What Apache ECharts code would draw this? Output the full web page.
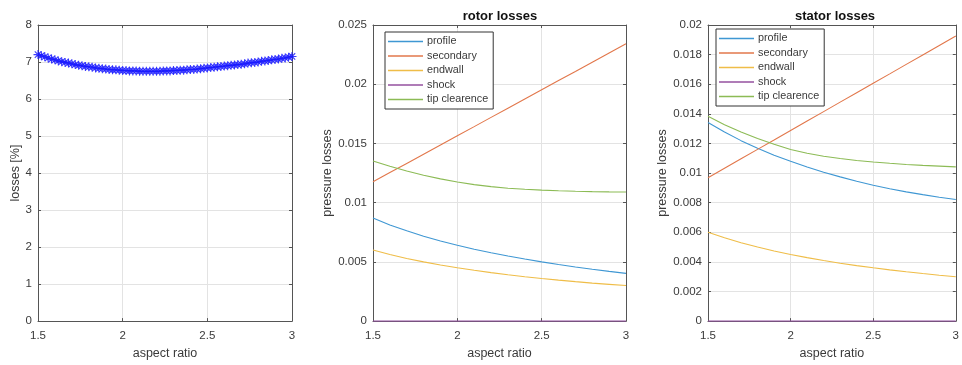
<!DOCTYPE html>
<html>
<head>
<meta charset="utf-8">
<title>aspect ratio losses</title>
<script src="https://cdn.jsdelivr.net/npm/echarts@6/dist/echarts.min.js"></script>
<style>
  html, body { margin: 0; padding: 0; background: #fff; }
  #chart { width: 962px; height: 365px; }
</style>
</head>
<body>
<div id="chart"></div>
<script>
// Total losses [%] versus aspect ratio (1.50 .. 3.00, step 0.02)
const totalAR = [
  1.50, 1.52, 1.54, 1.56, 1.58, 1.60, 1.62, 1.64, 1.66, 1.68,
  1.70, 1.72, 1.74, 1.76, 1.78, 1.80, 1.82, 1.84, 1.86, 1.88,
  1.90, 1.92, 1.94, 1.96, 1.98, 2.00, 2.02, 2.04, 2.06, 2.08,
  2.10, 2.12, 2.14, 2.16, 2.18, 2.20, 2.22, 2.24, 2.26, 2.28,
  2.30, 2.32, 2.34, 2.36, 2.38, 2.40, 2.42, 2.44, 2.46, 2.48,
  2.50, 2.52, 2.54, 2.56, 2.58, 2.60, 2.62, 2.64, 2.66, 2.68,
  2.70, 2.72, 2.74, 2.76, 2.78, 2.80, 2.82, 2.84, 2.86, 2.88,
  2.90, 2.92, 2.94, 2.96, 2.98, 3.00
];
const totalLoss = [
  7.20, 7.17, 7.14, 7.11, 7.08, 7.06, 7.03, 7.01, 6.99, 6.97,
  6.95, 6.93, 6.91, 6.90, 6.88, 6.87, 6.86, 6.84, 6.83, 6.82,
  6.81, 6.80, 6.79, 6.79, 6.78, 6.77, 6.77, 6.76, 6.76, 6.76,
  6.75, 6.75, 6.75, 6.75, 6.75, 6.75, 6.75, 6.76, 6.76, 6.76,
  6.77, 6.77, 6.78, 6.78, 6.79, 6.80, 6.80, 6.81, 6.82, 6.83,
  6.84, 6.85, 6.86, 6.87, 6.88, 6.89, 6.90, 6.91, 6.92, 6.93,
  6.94, 6.95, 6.97, 6.98, 6.99, 7.00, 7.02, 7.03, 7.04, 7.06,
  7.07, 7.08, 7.10, 7.11, 7.13, 7.15
];

// Loss breakdown versus aspect ratio (1.5 .. 3.0, step 0.1)
const ar = [1.5, 1.6, 1.7, 1.8, 1.9, 2.0, 2.1, 2.2, 2.3, 2.4, 2.5, 2.6, 2.7, 2.8, 2.9, 3.0];

const rotorProfile   = [0.00870, 0.00812, 0.00762, 0.00717, 0.00677, 0.00640, 0.00607, 0.00577, 0.00550, 0.00524, 0.00500, 0.00478, 0.00457, 0.00438, 0.00420, 0.00403];
const rotorSecondary = [0.01176, 0.01254, 0.01331, 0.01409, 0.01487, 0.01565, 0.01642, 0.01720, 0.01798, 0.01875, 0.01953, 0.02031, 0.02108, 0.02186, 0.02264, 0.02341];
const rotorEndwall   = [0.00600, 0.00563, 0.00529, 0.00500, 0.00474, 0.00450, 0.00429, 0.00409, 0.00391, 0.00375, 0.00360, 0.00346, 0.00333, 0.00321, 0.00310, 0.00300];
const rotorShock     = [0, 0, 0, 0, 0, 0, 0, 0, 0, 0, 0, 0, 0, 0, 0, 0];
const rotorTip       = [0.01352, 0.01307, 0.01267, 0.01232, 0.01201, 0.01174, 0.01152, 0.01135, 0.01122, 0.01113, 0.01106, 0.01100, 0.01096, 0.01093, 0.01091, 0.01090];

const statorProfile   = [0.01342, 0.01277, 0.01219, 0.01167, 0.01120, 0.01079, 0.01041, 0.01006, 0.00974, 0.00945, 0.00918, 0.00894, 0.00873, 0.00854, 0.00837, 0.00821];
const statorSecondary = [0.00968, 0.01032, 0.01096, 0.01160, 0.01223, 0.01287, 0.01351, 0.01415, 0.01479, 0.01543, 0.01607, 0.01670, 0.01734, 0.01798, 0.01862, 0.01926];
const statorEndwall   = [0.00600, 0.00563, 0.00529, 0.00500, 0.00474, 0.00450, 0.00429, 0.00409, 0.00391, 0.00375, 0.00360, 0.00346, 0.00333, 0.00321, 0.00310, 0.00300];
const statorShock     = [0, 0, 0, 0, 0, 0, 0, 0, 0, 0, 0, 0, 0, 0, 0, 0];
const statorTip       = [0.01383, 0.01327, 0.01277, 0.01233, 0.01194, 0.01159, 0.01134, 0.01114, 0.01098, 0.01085, 0.01075, 0.01066, 0.01058, 0.01052, 0.01047, 0.01042];

const lossNames = ['profile', 'secondary', 'endwall', 'shock', 'tip clearence'];
const lossColors = ['#3f97d3', '#e2774b', '#efbd48', '#94509f', '#8cbb55'];

const FONT = '"Liberation Sans", Arial, Helvetica, sans-serif';
const TEXT = '#3a3a3a';
const BOX = '#555555';
const GRIDLINE = '#e3e3e3';
const TICK_SIZE = 11.5;
const NAME_SIZE = 12.5;

// asterisk marker built from thin bars
const STAR = 'path://M-0.12,-1L0.12,-1L0.12,1L-0.12,1Z' +
  'M-1,-0.12L1,-0.12L1,0.12L-1,0.12Z' +
  'M-0.8,-0.63L-0.63,-0.8L0.8,0.63L0.63,0.8Z' +
  'M0.63,-0.8L0.8,-0.63L-0.63,0.8L-0.8,0.63Z';

const pairs = (xs, ys) => xs.map((x, i) => [x, ys[i]]);

const grids = [
  { left: 38,  top: 25, width: 254, height: 299 },
  { left: 373, top: 25, width: 253, height: 299 },
  { left: 708, top: 25, width: 253, height: 299 }
];

function bottomAxis(gi) {
  return {
    type: 'value', gridIndex: gi, position: 'bottom',
    min: 1.5, max: 3, interval: 0.5,
    name: 'aspect ratio', nameLocation: 'middle', nameGap: 23,
    nameTextStyle: { color: TEXT, fontFamily: FONT, fontSize: NAME_SIZE },
    axisLine: { onZero: false, lineStyle: { color: BOX, width: 1 } },
    axisTick: { inside: true, length: 3, lineStyle: { color: BOX } },
    axisLabel: { color: TEXT, fontFamily: FONT, fontSize: TICK_SIZE, margin: 9 },
    splitLine: { show: true, lineStyle: { color: GRIDLINE, width: 1 } }
  };
}
function topAxis(gi) {
  return {
    type: 'value', gridIndex: gi, position: 'top',
    min: 1.5, max: 3, interval: 0.5,
    axisLine: { onZero: false, lineStyle: { color: BOX, width: 1 } },
    axisTick: { inside: true, length: 3, lineStyle: { color: BOX } },
    axisLabel: { show: false },
    splitLine: { show: false }
  };
}
function leftAxis(gi, max, interval, name, gap) {
  return {
    type: 'value', gridIndex: gi, position: 'left',
    min: 0, max: max, interval: interval,
    name: name, nameLocation: 'middle', nameGap: gap,
    nameTextStyle: { color: TEXT, fontFamily: FONT, fontSize: NAME_SIZE },
    axisLine: { show: true, onZero: false, lineStyle: { color: BOX, width: 1 } },
    axisTick: { show: true, inside: true, length: 3, lineStyle: { color: BOX } },
    axisLabel: { color: TEXT, fontFamily: FONT, fontSize: TICK_SIZE, margin: 6 },
    splitLine: { show: true, lineStyle: { color: GRIDLINE, width: 1 } }
  };
}
function rightAxis(gi, max, interval) {
  return {
    type: 'value', gridIndex: gi, position: 'right',
    min: 0, max: max, interval: interval,
    axisLine: { show: true, onZero: false, lineStyle: { color: BOX, width: 1 } },
    axisTick: { show: true, inside: true, length: 3, lineStyle: { color: BOX } },
    axisLabel: { show: false },
    splitLine: { show: false }
  };
}

function lossSeries(xi, yi, sets) {
  return sets.map((vals, k) => ({
    type: 'line', name: lossNames[k],
    xAxisIndex: xi, yAxisIndex: yi,
    data: pairs(ar, vals),
    smooth: false, symbol: 'none',
    lineStyle: { color: lossColors[k], width: 1.1 },
    itemStyle: { color: lossColors[k] },
    z: 3, animation: false
  }));
}

function legendAt(left, top) {
  return {
    orient: 'vertical', left: left, top: top,
    data: lossNames,
    icon: 'path://M0,0L35,0L35,1.4L0,1.4Z',
    itemWidth: 35, itemHeight: 1.4, itemGap: 3.5,
    padding: [4, 5, 4, 3],
    backgroundColor: '#ffffff', borderColor: '#333333', borderWidth: 1,
    selectedMode: false,
    textStyle: { color: TEXT, fontFamily: FONT, fontSize: 10.8, padding: [0, 0, 0, -1], lineHeight: 11, height: 11 }
  };
}

const option = {
  backgroundColor: '#ffffff',
  animation: false,
  title: [
    { text: 'rotor losses', left: 495, top: 5, textAlign: 'center',
      textStyle: { fontFamily: FONT, fontSize: 13, fontWeight: 'bold', color: '#111' } },
    { text: 'stator losses', left: 830, top: 5, textAlign: 'center',
      textStyle: { fontFamily: FONT, fontSize: 13, fontWeight: 'bold', color: '#111' } }
  ],
  grid: grids,
  xAxis: [bottomAxis(0), topAxis(0), bottomAxis(1), topAxis(1), bottomAxis(2), topAxis(2)],
  yAxis: [
    leftAxis(0, 8, 1, 'losses [%]', 15), rightAxis(0, 8, 1),
    leftAxis(1, 0.025, 0.005, 'pressure losses', 35), rightAxis(1, 0.025, 0.005),
    leftAxis(2, 0.02, 0.002, 'pressure losses', 37), rightAxis(2, 0.02, 0.002)
  ],
  legend: [legendAt(385, 32), legendAt(716, 29)],
  series: [
    {
      type: 'line', name: 'total',
      xAxisIndex: 0, yAxisIndex: 0,
      data: pairs(totalAR, totalLoss),
      symbol: STAR, symbolSize: 9, showAllSymbol: true,
      lineStyle: { color: '#0000ff', width: 1 },
      itemStyle: { color: '#1a1aff', opacity: 0.85 },
      z: 3
    },
    ...lossSeries(2, 2, [rotorProfile, rotorSecondary, rotorEndwall, rotorShock, rotorTip]),
    ...lossSeries(4, 4, [statorProfile, statorSecondary, statorEndwall, statorShock, statorTip])
  ]
};

const chart = echarts.init(document.getElementById('chart'), null, { renderer: 'canvas' });
chart.setOption(option);
</script>
</body>
</html>
